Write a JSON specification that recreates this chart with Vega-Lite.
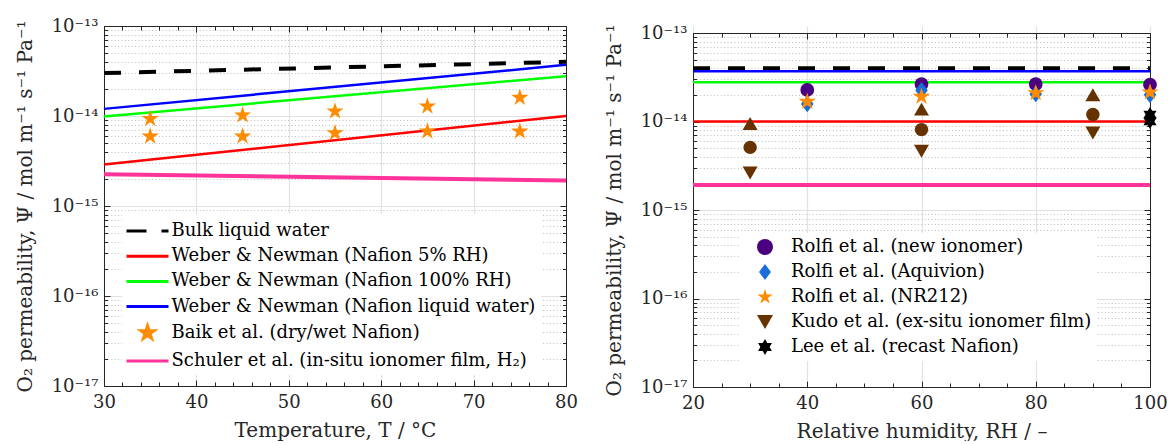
{
  "$schema": "https://vega.github.io/schema/vega-lite/v6.json",
  "background": "white",
  "padding": {"left": 15, "top": 17, "right": 0, "bottom": 0},
  "spacing": 26,
  "resolve": {
    "scale": {"color": "independent", "stroke": "independent"}
  },
  "config": {
    "view": {"stroke": null},
    "line": {"strokeCap": "butt"},
    "point": {"filled": true, "opacity": 1, "strokeWidth": 0},
    "axis": {
      "domainColor": "#262626", "tickColor": "#262626", "tickWidth": 1,
      "labelFont": "DejaVu Serif", "labelFontSize": 18, "labelColor": "#262626",
      "titleFont": "DejaVu Serif", "titleFontSize": 20, "titleFontWeight": "normal", "titleColor": "#262626",
      "labelOverlap": false, "labelFlush": false, "labelBound": false
    }
  },
  "datasets": {
    "tempLines": [
      {"T": 30, "P": 3.0e-14, "series": "Bulk liquid water"},
      {"T": 80, "P": 4.0e-14, "series": "Bulk liquid water"},
      {"T": 30, "P": 2.9e-15, "series": "Weber & Newman (Nafion 5% RH)"},
      {"T": 80, "P": 1.0e-14, "series": "Weber & Newman (Nafion 5% RH)"},
      {"T": 30, "P": 9.9e-15, "series": "Weber & Newman (Nafion 100% RH)"},
      {"T": 80, "P": 2.77e-14, "series": "Weber & Newman (Nafion 100% RH)"},
      {"T": 30, "P": 1.2e-14, "series": "Weber & Newman (Nafion liquid water)"},
      {"T": 80, "P": 3.7e-14, "series": "Weber & Newman (Nafion liquid water)"},
      {"T": 30, "P": 2.25e-15, "series": "Schuler et al. (in-situ ionomer film, H₂)"},
      {"T": 80, "P": 1.92e-15, "series": "Schuler et al. (in-situ ionomer film, H₂)"}
    ],
    "baik": [
      {"T": 35, "P": 9.3e-15, "series": "Baik et al. (dry/wet Nafion)"},
      {"T": 35, "P": 5.94e-15, "series": "Baik et al. (dry/wet Nafion)"},
      {"T": 45, "P": 1.02e-14, "series": "Baik et al. (dry/wet Nafion)"},
      {"T": 45, "P": 5.94e-15, "series": "Baik et al. (dry/wet Nafion)"},
      {"T": 55, "P": 1.13e-14, "series": "Baik et al. (dry/wet Nafion)"},
      {"T": 55, "P": 6.47e-15, "series": "Baik et al. (dry/wet Nafion)"},
      {"T": 65, "P": 1.28e-14, "series": "Baik et al. (dry/wet Nafion)"},
      {"T": 65, "P": 6.76e-15, "series": "Baik et al. (dry/wet Nafion)"},
      {"T": 75, "P": 1.6e-14, "series": "Baik et al. (dry/wet Nafion)"},
      {"T": 75, "P": 6.76e-15, "series": "Baik et al. (dry/wet Nafion)"}
    ],
    "rhLines": [
      {"RH": 20, "P": 4.0e-14, "series": "Bulk liquid water"},
      {"RH": 100, "P": 4.0e-14, "series": "Bulk liquid water"},
      {"RH": 20, "P": 1.0e-14, "series": "Weber & Newman (Nafion 5% RH)"},
      {"RH": 100, "P": 1.0e-14, "series": "Weber & Newman (Nafion 5% RH)"},
      {"RH": 20, "P": 2.77e-14, "series": "Weber & Newman (Nafion 100% RH)"},
      {"RH": 100, "P": 2.77e-14, "series": "Weber & Newman (Nafion 100% RH)"},
      {"RH": 20, "P": 3.7e-14, "series": "Weber & Newman (Nafion liquid water)"},
      {"RH": 100, "P": 3.7e-14, "series": "Weber & Newman (Nafion liquid water)"},
      {"RH": 20, "P": 1.92e-15, "series": "Schuler et al. (in-situ ionomer film, H₂)"},
      {"RH": 100, "P": 1.92e-15, "series": "Schuler et al. (in-situ ionomer film, H₂)"}
    ],
    "rhPoints": [
      {"RH": 40, "P": 2.27e-14, "series": "Rolfi et al. (new ionomer)", "stat": "value"},
      {"RH": 60, "P": 2.65e-14, "series": "Rolfi et al. (new ionomer)", "stat": "value"},
      {"RH": 80, "P": 2.65e-14, "series": "Rolfi et al. (new ionomer)", "stat": "value"},
      {"RH": 100, "P": 2.61e-14, "series": "Rolfi et al. (new ionomer)", "stat": "value"},
      {"RH": 40, "P": 1.58e-14, "series": "Rolfi et al. (Aquivion)", "stat": "value"},
      {"RH": 60, "P": 2.25e-14, "series": "Rolfi et al. (Aquivion)", "stat": "value"},
      {"RH": 80, "P": 2.05e-14, "series": "Rolfi et al. (Aquivion)", "stat": "value"},
      {"RH": 100, "P": 2.0e-14, "series": "Rolfi et al. (Aquivion)", "stat": "value"},
      {"RH": 40, "P": 1.68e-14, "series": "Rolfi et al. (NR212)", "stat": "value"},
      {"RH": 60, "P": 1.91e-14, "series": "Rolfi et al. (NR212)", "stat": "value"},
      {"RH": 80, "P": 2.1e-14, "series": "Rolfi et al. (NR212)", "stat": "value"},
      {"RH": 100, "P": 2.14e-14, "series": "Rolfi et al. (NR212)", "stat": "value"},
      {"RH": 30, "P": 2.62e-15, "series": "Kudo et al. (ex-situ ionomer film)", "stat": "min"},
      {"RH": 60, "P": 4.6e-15, "series": "Kudo et al. (ex-situ ionomer film)", "stat": "min"},
      {"RH": 90, "P": 7.4e-15, "series": "Kudo et al. (ex-situ ionomer film)", "stat": "min"},
      {"RH": 30, "P": 5.1e-15, "series": "Kudo et al. (ex-situ ionomer film)", "stat": "mean"},
      {"RH": 60, "P": 8.1e-15, "series": "Kudo et al. (ex-situ ionomer film)", "stat": "mean"},
      {"RH": 90, "P": 1.2e-14, "series": "Kudo et al. (ex-situ ionomer film)", "stat": "mean"},
      {"RH": 30, "P": 9.5e-15, "series": "Kudo et al. (ex-situ ionomer film)", "stat": "max"},
      {"RH": 60, "P": 1.38e-14, "series": "Kudo et al. (ex-situ ionomer film)", "stat": "max"},
      {"RH": 90, "P": 2.0e-14, "series": "Kudo et al. (ex-situ ionomer film)", "stat": "max"},
      {"RH": 100, "P": 1.2e-14, "series": "Lee et al. (recast Nafion)", "stat": "value"},
      {"RH": 100, "P": 1.0e-14, "series": "Lee et al. (recast Nafion)", "stat": "value"}
    ]
  },
  "hconcat": [
    {
      "width": 462,
      "height": 360,
      "resolve": {"axis": {"x": "independent", "y": "independent"}},
      "layer": [
        {
          "data": {"name": "tempLines"},
          "transform": [{"filter": "datum.series === 'Bulk liquid water'"}],
          "mark": {"type": "line", "color": "#000000", "strokeWidth": 4, "strokeDash": [17, 18]},
          "encoding": {
            "x": {
              "field": "T", "type": "quantitative",
              "scale": {"domain": [30, 80], "nice": false, "zero": false},
              "axis": {
                "orient": "bottom", "title": "Temperature, T /  °C",
                "values": [30,32,34,36,38,40,42,44,46,48,50,52,54,56,58,60,62,64,66,68,70,72,74,76,78,80],
                "labelExpr": "datum.value % 10 === 0 ? datum.label : ''",
                "tickSize": {"condition": {"test": "datum.value % 10 === 0", "value": -6}, "value": -4},
                "grid": true, "gridColor": "#e2e2e2", "gridWidth": 1.2,
                "gridOpacity": {"condition": {"test": "datum.value % 10 === 0", "value": 1}, "value": 0},
                "labelPadding": 13, "titlePadding": 7
              }
            },
            "y": {
              "field": "P", "type": "quantitative",
              "scale": {"type": "log", "domain": [1e-17, 1e-13], "nice": false},
              "axis": {
                "orient": "left", "title": "O₂ permeability, Ψ / mol m⁻¹ s⁻¹ Pa⁻¹",
                "values": [1e-17,2e-17,3e-17,4e-17,5e-17,6e-17,7e-17,8e-17,9e-17,1e-16,2e-16,3e-16,4e-16,5e-16,6e-16,7e-16,8e-16,9e-16,1e-15,2e-15,3e-15,4e-15,5e-15,6e-15,7e-15,8e-15,9e-15,1e-14,2e-14,3e-14,4e-14,5e-14,6e-14,7e-14,8e-14,9e-14,1e-13],
                "labelExpr": "abs(log(datum.value)/LN10 - round(log(datum.value)/LN10)) < 0.01 ? '10⁻¹' + ['⁰','¹','²','³','⁴','⁵','⁶','⁷','⁸','⁹'][-round(log(datum.value)/LN10) - 10] : ''",
                "tickSize": {"condition": {"test": "abs(log(datum.value)/LN10 - round(log(datum.value)/LN10)) < 0.01", "value": -6}, "value": -3.5},
                "grid": true, "gridWidth": 1,
                "gridDash": {"condition": {"test": "abs(log(datum.value)/LN10 - round(log(datum.value)/LN10)) < 0.01", "value": []}, "value": [1, 2.4]},
                "gridColor": {"condition": {"test": "abs(log(datum.value)/LN10 - round(log(datum.value)/LN10)) < 0.01", "value": "#e0e0e0"}, "value": "#bdbdbd"},
                "labelPadding": 12, "titlePadding": 16
              }
            }
          }
        },
        {
          "data": {"name": "tempLines"},
          "transform": [{"filter": "indexof(datum.series, 'Weber') === 0"}],
          "mark": {"type": "line", "strokeWidth": 2.5},
          "encoding": {
            "x": {"field": "T", "type": "quantitative", "scale": {"domain": [30, 80], "nice": false, "zero": false}, "axis": null},
            "y": {"field": "P", "type": "quantitative", "scale": {"type": "log", "domain": [1e-17, 1e-13], "nice": false}, "axis": null},
            "color": {
              "field": "series", "type": "nominal",
              "scale": {
                "domain": ["Bulk liquid water", "Weber & Newman (Nafion 5% RH)", "Weber & Newman (Nafion 100% RH)", "Weber & Newman (Nafion liquid water)", "Baik et al. (dry/wet Nafion)", "Schuler et al. (in-situ ionomer film, H₂)"],
                "range": ["#000000", "#ff0000", "#00ff00", "#0000ff", "#ff8c00", "#ff3399"]
              },
              "legend": {
                "orient": "none", "legendX": 18, "legendY": 188, "title": null,
                "fillColor": "white", "padding": 5,
                "labelFont": "DejaVu Serif", "labelFontSize": 18, "labelColor": "#000000", "labelLimit": 600,
                "symbolSize": 441, "symbolOffset": 8.5, "labelOffset": 12, "rowPadding": 4.2,
                "encode": {
                  "symbols": {
                    "update": {
                      "shape": {"signal": "datum.value === 'Baik et al. (dry/wet Nafion)' ? 'M0,-0.66L0.1482,-0.204L0.6277,-0.204L0.2396,0.0779L0.3881,0.5339L0,0.2521L-0.3881,0.5339L-0.2396,0.0779L-0.6277,-0.204L-0.1482,-0.204Z' : 'M-2,0H2'"},
                      "fill": {"signal": "datum.value === 'Baik et al. (dry/wet Nafion)' ? '#ff8c00' : 'transparent'"},
                      "stroke": {"signal": "['#000000','#ff0000','#00ff00','#0000ff','transparent','#ff3399'][indexof(['Bulk liquid water','Weber & Newman (Nafion 5% RH)','Weber & Newman (Nafion 100% RH)','Weber & Newman (Nafion liquid water)','Baik et al. (dry/wet Nafion)','Schuler et al. (in-situ ionomer film, H₂)'], datum.value)]"},
                      "strokeWidth": {"value": 3},
                      "strokeDash": {"signal": "datum.value === 'Bulk liquid water' ? [20, 15] : [1, 0]"},
                      "opacity": {"value": 1}
                    }
                  }
                }
              }
            }
          }
        },
        {
          "data": {"name": "tempLines"},
          "transform": [{"filter": "indexof(datum.series, 'Schuler') === 0"}],
          "mark": {"type": "line", "color": "#ff3399", "strokeWidth": 4},
          "encoding": {
            "x": {"field": "T", "type": "quantitative", "scale": {"domain": [30, 80], "nice": false, "zero": false}, "axis": null},
            "y": {"field": "P", "type": "quantitative", "scale": {"type": "log", "domain": [1e-17, 1e-13], "nice": false}, "axis": null}
          }
        },
        {
          "data": {"name": "baik"},
          "mark": {"type": "point", "size": 330, "color": "#ff8c00",
                   "shape": "M0,-1L0.2245,-0.309L0.951,-0.309L0.363,0.118L0.588,0.809L0,0.382L-0.588,0.809L-0.363,0.118L-0.951,-0.309L-0.2245,-0.309Z"},
          "encoding": {
            "x": {
              "field": "T", "type": "quantitative",
              "scale": {"domain": [30, 80], "nice": false, "zero": false},
              "axis": {
                "orient": "top", "title": null, "labels": false, "grid": false,
                "values": [30,32,34,36,38,40,42,44,46,48,50,52,54,56,58,60,62,64,66,68,70,72,74,76,78,80],
                "tickSize": {"condition": {"test": "datum.value % 10 === 0", "value": -6}, "value": -4}
              }
            },
            "y": {
              "field": "P", "type": "quantitative",
              "scale": {"type": "log", "domain": [1e-17, 1e-13], "nice": false},
              "axis": {
                "orient": "right", "title": null, "labels": false, "grid": false,
                "values": [1e-17,2e-17,3e-17,4e-17,5e-17,6e-17,7e-17,8e-17,9e-17,1e-16,2e-16,3e-16,4e-16,5e-16,6e-16,7e-16,8e-16,9e-16,1e-15,2e-15,3e-15,4e-15,5e-15,6e-15,7e-15,8e-15,9e-15,1e-14,2e-14,3e-14,4e-14,5e-14,6e-14,7e-14,8e-14,9e-14,1e-13],
                "tickSize": {"condition": {"test": "abs(log(datum.value)/LN10 - round(log(datum.value)/LN10)) < 0.01", "value": -6}, "value": -3.5}
              }
            }
          }
        }
      ]
    },
    {
      "width": 457,
      "height": 361,
      "resolve": {"axis": {"x": "independent", "y": "independent"}},
      "layer": [
        {
          "data": {"name": "rhLines"},
          "transform": [{"filter": "datum.series === 'Bulk liquid water'"}],
          "mark": {"type": "line", "strokeWidth": 4, "strokeDash": [17, 18]},
          "encoding": {
            "x": {
              "field": "RH", "type": "quantitative",
              "scale": {"domain": [20, 100], "nice": false, "zero": false},
              "axis": {
                "orient": "bottom", "title": "Relative humidity, RH / –",
                "values": [20,25,30,35,40,45,50,55,60,65,70,75,80,85,90,95,100],
                "labelExpr": "datum.value % 20 === 0 ? datum.label : ''",
                "tickSize": {"condition": {"test": "datum.value % 20 === 0", "value": -6}, "value": -4},
                "grid": true, "gridColor": "#e2e2e2", "gridWidth": 1.2,
                "gridOpacity": {"condition": {"test": "datum.value % 20 === 0", "value": 1}, "value": 0},
                "labelPadding": 13, "titlePadding": 7
              }
            },
            "y": {
              "field": "P", "type": "quantitative",
              "scale": {"type": "log", "domain": [1e-17, 1e-13], "nice": false, "range": [361, 7]},
              "axis": {
                "orient": "left", "title": "O₂ permeability, Ψ / mol m⁻¹ s⁻¹ Pa⁻¹",
                "values": [1e-17,2e-17,3e-17,4e-17,5e-17,6e-17,7e-17,8e-17,9e-17,1e-16,2e-16,3e-16,4e-16,5e-16,6e-16,7e-16,8e-16,9e-16,1e-15,2e-15,3e-15,4e-15,5e-15,6e-15,7e-15,8e-15,9e-15,1e-14,2e-14,3e-14,4e-14,5e-14,6e-14,7e-14,8e-14,9e-14,1e-13],
                "labelExpr": "abs(log(datum.value)/LN10 - round(log(datum.value)/LN10)) < 0.01 ? '10⁻¹' + ['⁰','¹','²','³','⁴','⁵','⁶','⁷','⁸','⁹'][-round(log(datum.value)/LN10) - 10] : ''",
                "tickSize": {"condition": {"test": "abs(log(datum.value)/LN10 - round(log(datum.value)/LN10)) < 0.01", "value": -6}, "value": -3.5},
                "grid": true, "gridWidth": 1,
                "gridDash": {"condition": {"test": "abs(log(datum.value)/LN10 - round(log(datum.value)/LN10)) < 0.01", "value": []}, "value": [1, 2.4]},
                "gridColor": {"condition": {"test": "abs(log(datum.value)/LN10 - round(log(datum.value)/LN10)) < 0.01", "value": "#e0e0e0"}, "value": "#bdbdbd"},
                "labelPadding": 12, "titlePadding": 16
              }
            },
            "color": {
              "field": "series", "type": "nominal",
              "scale": {
                "domain": ["Rolfi et al. (new ionomer)", "Rolfi et al. (Aquivion)", "Rolfi et al. (NR212)", "Kudo et al. (ex-situ ionomer film)", "Lee et al. (recast Nafion)", "Bulk liquid water"],
                "range": ["#4b0082", "#1a6ed8", "#ff8c00", "#663300", "#000000", "#000000"]
              },
              "legend": {
                "values": ["Rolfi et al. (new ionomer)", "Rolfi et al. (Aquivion)", "Rolfi et al. (NR212)", "Kudo et al. (ex-situ ionomer film)", "Lee et al. (recast Nafion)"],
                "orient": "none", "legendX": 47, "legendY": 207, "title": null,
                "fillColor": "white", "padding": 5,
                "labelFont": "DejaVu Serif", "labelFontSize": 18, "labelColor": "#000000", "labelLimit": 600,
                "symbolSize": 256, "symbolOffset": 11, "labelOffset": 17, "rowPadding": 7,
                "encode": {
                  "symbols": {
                    "update": {
                      "shape": {"signal": "['circle', 'M0,-1L0.75,0L0,1L-0.75,0Z', 'M0,-1L0.2245,-0.309L0.951,-0.309L0.363,0.118L0.588,0.809L0,0.382L-0.588,0.809L-0.363,0.118L-0.951,-0.309L-0.2245,-0.309Z', 'triangle-down', 'M0,-1L0.866,0.5L-0.866,0.5Z M0,1L-0.866,-0.5L0.866,-0.5Z'][indexof(['Rolfi et al. (new ionomer)','Rolfi et al. (Aquivion)','Rolfi et al. (NR212)','Kudo et al. (ex-situ ionomer film)','Lee et al. (recast Nafion)'], datum.value)]"},
                      "fill": {"signal": "['#4b0082','#1a6ed8','#ff8c00','#663300','#000000'][indexof(['Rolfi et al. (new ionomer)','Rolfi et al. (Aquivion)','Rolfi et al. (NR212)','Kudo et al. (ex-situ ionomer film)','Lee et al. (recast Nafion)'], datum.value)]"},
                      "stroke": {"value": "transparent"},
                      "strokeWidth": {"value": 0},
                      "strokeDash": {"value": [1, 0]},
                      "opacity": {"value": 1}
                    }
                  }
                }
              }
            }
          }
        },
        {
          "data": {"name": "rhLines"},
          "transform": [{"filter": "indexof(datum.series, 'Weber') === 0"}],
          "mark": {"type": "line", "strokeWidth": 2.5},
          "encoding": {
            "x": {"field": "RH", "type": "quantitative", "scale": {"domain": [20, 100], "nice": false, "zero": false}, "axis": null},
            "y": {"field": "P", "type": "quantitative", "scale": {"type": "log", "domain": [1e-17, 1e-13], "nice": false, "range": [361, 7]}, "axis": null},
            "stroke": {
              "field": "series", "type": "nominal", "legend": null,
              "scale": {
                "domain": ["Weber & Newman (Nafion 5% RH)", "Weber & Newman (Nafion 100% RH)", "Weber & Newman (Nafion liquid water)"],
                "range": ["#ff0000", "#00ff00", "#0000ff"]
              }
            }
          }
        },
        {
          "data": {"name": "rhLines"},
          "transform": [{"filter": "indexof(datum.series, 'Schuler') === 0"}],
          "mark": {"type": "line", "color": "#ff3399", "strokeWidth": 4},
          "encoding": {
            "x": {"field": "RH", "type": "quantitative", "scale": {"domain": [20, 100], "nice": false, "zero": false}, "axis": null},
            "y": {"field": "P", "type": "quantitative", "scale": {"type": "log", "domain": [1e-17, 1e-13], "nice": false, "range": [361, 7]}, "axis": null}
          }
        },
        {
          "data": {"name": "rhPoints"},
          "transform": [{"filter": "datum.series === 'Rolfi et al. (new ionomer)'"}],
          "mark": {"type": "point", "shape": "circle", "size": 190, "color": "#4b0082"},
          "encoding": {
            "x": {
              "field": "RH", "type": "quantitative",
              "scale": {"domain": [20, 100], "nice": false, "zero": false},
              "axis": {
                "orient": "top", "title": null, "labels": false, "grid": false, "offset": -7,
                "values": [20,25,30,35,40,45,50,55,60,65,70,75,80,85,90,95,100],
                "tickSize": {"condition": {"test": "datum.value % 20 === 0", "value": -6}, "value": -4}
              }
            },
            "y": {
              "field": "P", "type": "quantitative",
              "scale": {"type": "log", "domain": [1e-17, 1e-13], "nice": false, "range": [361, 7]},
              "axis": {
                "orient": "right", "title": null, "labels": false, "grid": false,
                "values": [1e-17,2e-17,3e-17,4e-17,5e-17,6e-17,7e-17,8e-17,9e-17,1e-16,2e-16,3e-16,4e-16,5e-16,6e-16,7e-16,8e-16,9e-16,1e-15,2e-15,3e-15,4e-15,5e-15,6e-15,7e-15,8e-15,9e-15,1e-14,2e-14,3e-14,4e-14,5e-14,6e-14,7e-14,8e-14,9e-14,1e-13],
                "tickSize": {"condition": {"test": "abs(log(datum.value)/LN10 - round(log(datum.value)/LN10)) < 0.01", "value": -6}, "value": -3.5}
              }
            }
          }
        },
        {
          "data": {"name": "rhPoints"},
          "transform": [{"filter": "datum.series === 'Rolfi et al. (Aquivion)'"}],
          "mark": {"type": "point", "shape": "M0,-1L0.75,0L0,1L-0.75,0Z", "size": 280, "color": "#1a6ed8"},
          "encoding": {
            "x": {"field": "RH", "type": "quantitative", "scale": {"domain": [20, 100], "nice": false, "zero": false}, "axis": null},
            "y": {"field": "P", "type": "quantitative", "scale": {"type": "log", "domain": [1e-17, 1e-13], "nice": false, "range": [361, 7]}, "axis": null}
          }
        },
        {
          "data": {"name": "rhPoints"},
          "transform": [{"filter": "datum.series === 'Rolfi et al. (NR212)'"}],
          "mark": {"type": "point", "size": 330, "color": "#ff8c00",
                   "shape": "M0,-1L0.2245,-0.309L0.951,-0.309L0.363,0.118L0.588,0.809L0,0.382L-0.588,0.809L-0.363,0.118L-0.951,-0.309L-0.2245,-0.309Z"},
          "encoding": {
            "x": {"field": "RH", "type": "quantitative", "scale": {"domain": [20, 100], "nice": false, "zero": false}, "axis": null},
            "y": {"field": "P", "type": "quantitative", "scale": {"type": "log", "domain": [1e-17, 1e-13], "nice": false, "range": [361, 7]}, "axis": null}
          }
        },
        {
          "data": {"name": "rhPoints"},
          "transform": [{"filter": "datum.stat === 'min'"}],
          "mark": {"type": "point", "shape": "triangle-down", "size": 225, "color": "#663300"},
          "encoding": {
            "x": {"field": "RH", "type": "quantitative", "scale": {"domain": [20, 100], "nice": false, "zero": false}, "axis": null},
            "y": {"field": "P", "type": "quantitative", "scale": {"type": "log", "domain": [1e-17, 1e-13], "nice": false, "range": [361, 7]}, "axis": null}
          }
        },
        {
          "data": {"name": "rhPoints"},
          "transform": [{"filter": "datum.stat === 'max'"}],
          "mark": {"type": "point", "shape": "triangle-up", "size": 225, "color": "#663300"},
          "encoding": {
            "x": {"field": "RH", "type": "quantitative", "scale": {"domain": [20, 100], "nice": false, "zero": false}, "axis": null},
            "y": {"field": "P", "type": "quantitative", "scale": {"type": "log", "domain": [1e-17, 1e-13], "nice": false, "range": [361, 7]}, "axis": null}
          }
        },
        {
          "data": {"name": "rhPoints"},
          "transform": [{"filter": "datum.stat === 'mean'"}],
          "mark": {"type": "point", "shape": "circle", "size": 180, "color": "#663300"},
          "encoding": {
            "x": {"field": "RH", "type": "quantitative", "scale": {"domain": [20, 100], "nice": false, "zero": false}, "axis": null},
            "y": {"field": "P", "type": "quantitative", "scale": {"type": "log", "domain": [1e-17, 1e-13], "nice": false, "range": [361, 7]}, "axis": null}
          }
        },
        {
          "data": {"name": "rhPoints"},
          "transform": [{"filter": "datum.series === 'Lee et al. (recast Nafion)'"}],
          "mark": {"type": "point", "size": 230, "color": "#000000",
                   "shape": "M0,-1L0.866,0.5L-0.866,0.5Z M0,1L-0.866,-0.5L0.866,-0.5Z"},
          "encoding": {
            "x": {"field": "RH", "type": "quantitative", "scale": {"domain": [20, 100], "nice": false, "zero": false}, "axis": null},
            "y": {"field": "P", "type": "quantitative", "scale": {"type": "log", "domain": [1e-17, 1e-13], "nice": false, "range": [361, 7]}, "axis": null}
          }
        }
      ]
    }
  ]
}
